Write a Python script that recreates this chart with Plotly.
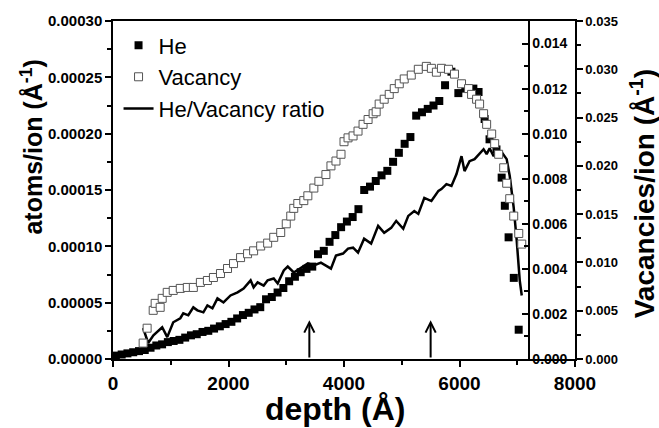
import plotly.graph_objects as go

# ---------------- data ----------------
he_depth = [50, 150, 250, 350, 450, 550, 650, 750, 850, 950, 1050, 1150, 1250, 1350, 1450,
            1550, 1650, 1750, 1850, 1950, 2050, 2150, 2250, 2350, 2450, 2550, 2650, 2750,
            2850, 2950, 3050, 3150, 3250, 3350, 3450, 3550, 3650, 3750, 3850, 3950, 4050,
            4150, 4250, 4350, 4450, 4550, 4650, 4750, 4850, 4950, 5050, 5150, 5250, 5350,
            5450, 5550, 5650, 5750, 5860, 5980, 6100, 6240, 6330, 6435, 6520, 6640, 6730,
            6785, 6850, 6940, 7025]
he_vals = [0.3, 0.4, 0.5, 0.6, 0.7, 0.8, 1.0, 1.2, 1.3, 1.5, 1.6, 1.7, 1.9, 2.1, 2.2,
           2.4, 2.5, 2.7, 2.9, 3.1, 3.3, 3.6, 3.9, 4.1, 4.4, 4.6, 5.3, 5.5,
           5.9, 6.3, 6.9, 7.3, 7.7, 8.0, 8.2, 9.3, 9.6, 10.4, 11.0, 11.7, 12.2,
           12.6, 13.3, 15.0, 15.3, 15.8, 16.3, 16.7, 17.5, 18.3, 19.1, 19.7, 21.6, 21.9,
           22.2, 22.5, 22.9, 24.3, 25.5, 23.6, 24.0, 24.0, 23.7, 21.3, 19.5, 18.6, 16.1,
           13.6, 10.8, 7.2, 2.6]
he_vals = [v * 1e-5 for v in he_vals]

vac_depth = [522, 591, 696, 730, 817, 852, 939, 1043, 1165, 1287, 1391, 1513, 1635, 1739,
             1861, 1983, 2087, 2209, 2330, 2435, 2557, 2678, 2783, 2904, 3000, 3078, 3130,
             3200, 3304, 3374, 3478, 3565, 3687, 3774, 3861, 3948, 4000, 4070, 4157, 4243,
             4330, 4417, 4504, 4557, 4609, 4696, 4783, 4870, 4957, 5043, 5165, 5287, 5426,
             5513, 5600, 5687, 5809, 5913, 6035, 6157, 6209, 6296, 6348, 6417, 6470, 6557,
             6609, 6678, 6765, 6817, 6870, 6939, 7026, 7078]
vac_vals = [0.00165, 0.00319, 0.00504, 0.00576, 0.00535, 0.00628, 0.00690, 0.00710, 0.00731,
            0.00741, 0.00741, 0.00793, 0.00813, 0.00844, 0.00885, 0.00937, 0.00988, 0.0105,
            0.0109, 0.0112, 0.0117, 0.0120, 0.0126, 0.0131, 0.0140, 0.0148, 0.0156, 0.0161,
            0.0164, 0.0169, 0.0177, 0.0184, 0.0191, 0.0200, 0.0205, 0.0212, 0.0225, 0.0229,
            0.0231, 0.0236, 0.0243, 0.0248, 0.0254, 0.0256, 0.0264, 0.0269, 0.0274, 0.0280,
            0.0285, 0.0290, 0.0294, 0.0300, 0.0303, 0.0301, 0.0297, 0.0301, 0.0300, 0.0295,
            0.0285, 0.0280, 0.0274, 0.0269, 0.0264, 0.0254, 0.0243, 0.0233, 0.0223, 0.0212,
            0.0198, 0.0182, 0.0166, 0.0148, 0.0130, 0.0119]

ratio_depth = [522, 609, 700, 852, 939, 1043, 1165, 1217, 1304, 1391, 1461, 1565, 1635, 1722,
               1809, 1913, 2035, 2157, 2261, 2383, 2435, 2504, 2609, 2678, 2783, 2852, 2957,
               3026, 3130, 3252, 3374, 3478, 3600, 3774, 3861, 3983, 4070, 4157, 4243, 4348,
               4470, 4591, 4696, 4817, 4904, 5026, 5113, 5217, 5287, 5391, 5513, 5635, 5687,
               5774, 5861, 5948, 6035, 6087, 6174, 6261, 6348, 6417, 6470, 6522, 6591, 6643,
               6730, 6817, 6870, 6939, 6991, 7043, 7078]
ratio_vals = [0.00137, 0.00071, 0.00105, 0.00141, 0.00097, 0.00163, 0.00181, 0.00203, 0.00194,
              0.00229, 0.00216, 0.00207, 0.00238, 0.00225, 0.00269, 0.00251, 0.00282, 0.00296,
              0.00313, 0.00349, 0.00318, 0.00340, 0.00326, 0.00349, 0.00357, 0.00335, 0.00393,
              0.00410, 0.00384, 0.00406, 0.00424, 0.00415, 0.00428, 0.00401, 0.00459, 0.00468,
              0.00490, 0.00494, 0.00472, 0.00534, 0.00512, 0.00591, 0.00560, 0.00582, 0.00613,
              0.00578, 0.00635, 0.00657, 0.00644, 0.00715, 0.00701, 0.00746, 0.00754, 0.00776,
              0.00768, 0.00821, 0.00900, 0.00834, 0.00878, 0.00887, 0.00913, 0.00931, 0.00909,
              0.00935, 0.00900, 0.00922, 0.00918, 0.00887, 0.00812, 0.00671, 0.00525, 0.00349,
              0.00282]

arrow_depths = [3400, 5500]
arrow_tip = 0.0000344

FONT = "Liberation Sans, Arial, sans-serif"

fig = go.Figure()
fig.add_trace(go.Scatter(x=he_depth, y=he_vals, mode="markers", name="He",
                         marker=dict(symbol="square", size=8, color="black",
                                     line=dict(width=0)),
                         yaxis="y"))
fig.add_trace(go.Scatter(x=vac_depth, y=vac_vals, mode="markers", name="Vacancy",
                         marker=dict(symbol="square", size=8, color="white",
                                     line=dict(width=1, color="#555555")),
                         yaxis="y3"))
fig.add_trace(go.Scatter(x=ratio_depth, y=ratio_vals, mode="lines", name="He/Vacancy ratio",
                         line=dict(color="black", width=2.5),
                         yaxis="y2"))

tick_bold = lambda s: dict(family=FONT, size=s, color="black", weight="bold")

fig.update_layout(
    width=659, height=428,
    margin=dict(l=113, r=84, t=19, b=69),
    paper_bgcolor="white", plot_bgcolor="white",
    showlegend=True,
    legend=dict(x=0.012, y=0.99, xanchor="left", yanchor="top",
                bgcolor="rgba(0,0,0,0)", font=dict(family=FONT, size=22, color="black"),
                tracegroupgap=0, itemwidth=30),
    xaxis=dict(range=[0, 8000], domain=[0, 1], showgrid=False, zeroline=False,
               showline=True, linecolor="black", linewidth=1.5, mirror=True,
               ticks="outside", ticklen=6, tickwidth=1.5, tickcolor="black",
               tickvals=[0, 2000, 4000, 6000, 8000],
               tickfont=tick_bold(19),
               minor=dict(ticks="outside", ticklen=4, tickwidth=1.5, tickcolor="black",
                          tickvals=[1000, 3000, 5000, 7000])),
    yaxis=dict(range=[0, 0.0003], showgrid=False, zeroline=False,
               showline=True, linecolor="black", linewidth=1.5,
               ticks="outside", ticklen=6, tickwidth=1.5, tickcolor="black",
               dtick=0.00005, tickformat=".5f", tickfont=tick_bold(15),
               minor=dict(ticks="outside", ticklen=4, tickwidth=1.5, tickcolor="black",
                          dtick=0.000025)),
    yaxis2=dict(range=[0, 0.015], overlaying="y", side="right", anchor="free",
                position=0.9, showgrid=False, zeroline=False,
                showline=True, linecolor="black", linewidth=1.5,
                ticks="inside", ticklen=6, tickwidth=1.5, tickcolor="black",
                dtick=0.002, tickformat=".3f", tickfont=tick_bold(14),
                minor=dict(ticks="inside", ticklen=4, tickwidth=1.5, tickcolor="black",
                           dtick=0.001)),
    yaxis3=dict(range=[0, 0.035], overlaying="y", side="right", anchor="x",
                showgrid=False, zeroline=False,
                showline=True, linecolor="black", linewidth=1.5,
                ticks="outside", ticklen=6, tickwidth=1.5, tickcolor="black",
                dtick=0.005, tickformat=".3f", tickfont=tick_bold(13),
                minor=dict(ticks="outside", ticklen=4, tickwidth=1.5, tickcolor="black",
                           dtick=0.0025)),
)

annotations = []
for d in arrow_depths:
    annotations.append(dict(x=d, y=arrow_tip, ax=d, ay=0, xref="x", yref="y",
                            axref="x", ayref="y", text="", showarrow=True,
                            arrowhead=5, arrowsize=1, arrowwidth=2, arrowcolor="black"))

annotations.append(dict(x=-0.175, y=0.626, xref="paper", yref="paper", showarrow=False,
                        xanchor="center", yanchor="middle",
                        text="<b>atoms/ion (Å<sup>-1</sup>)</b>", textangle=-90,
                        font=dict(family=FONT, size=25, color="black")))
annotations.append(dict(x=1.147, y=0.49, xref="paper", yref="paper", showarrow=False,
                        xanchor="center", yanchor="middle",
                        text="<b>Vacancies/ion (Å<sup>-1</sup>)</b>", textangle=-90,
                        font=dict(family=FONT, size=28, color="black")))
annotations.append(dict(x=0.48, y=-0.148, xref="paper", yref="paper", showarrow=False,
                        xanchor="center", yanchor="middle",
                        text="<b>depth (Å)</b>",
                        font=dict(family=FONT, size=32, color="black")))
fig.update_layout(annotations=annotations)

fig.write_html("out.html")
